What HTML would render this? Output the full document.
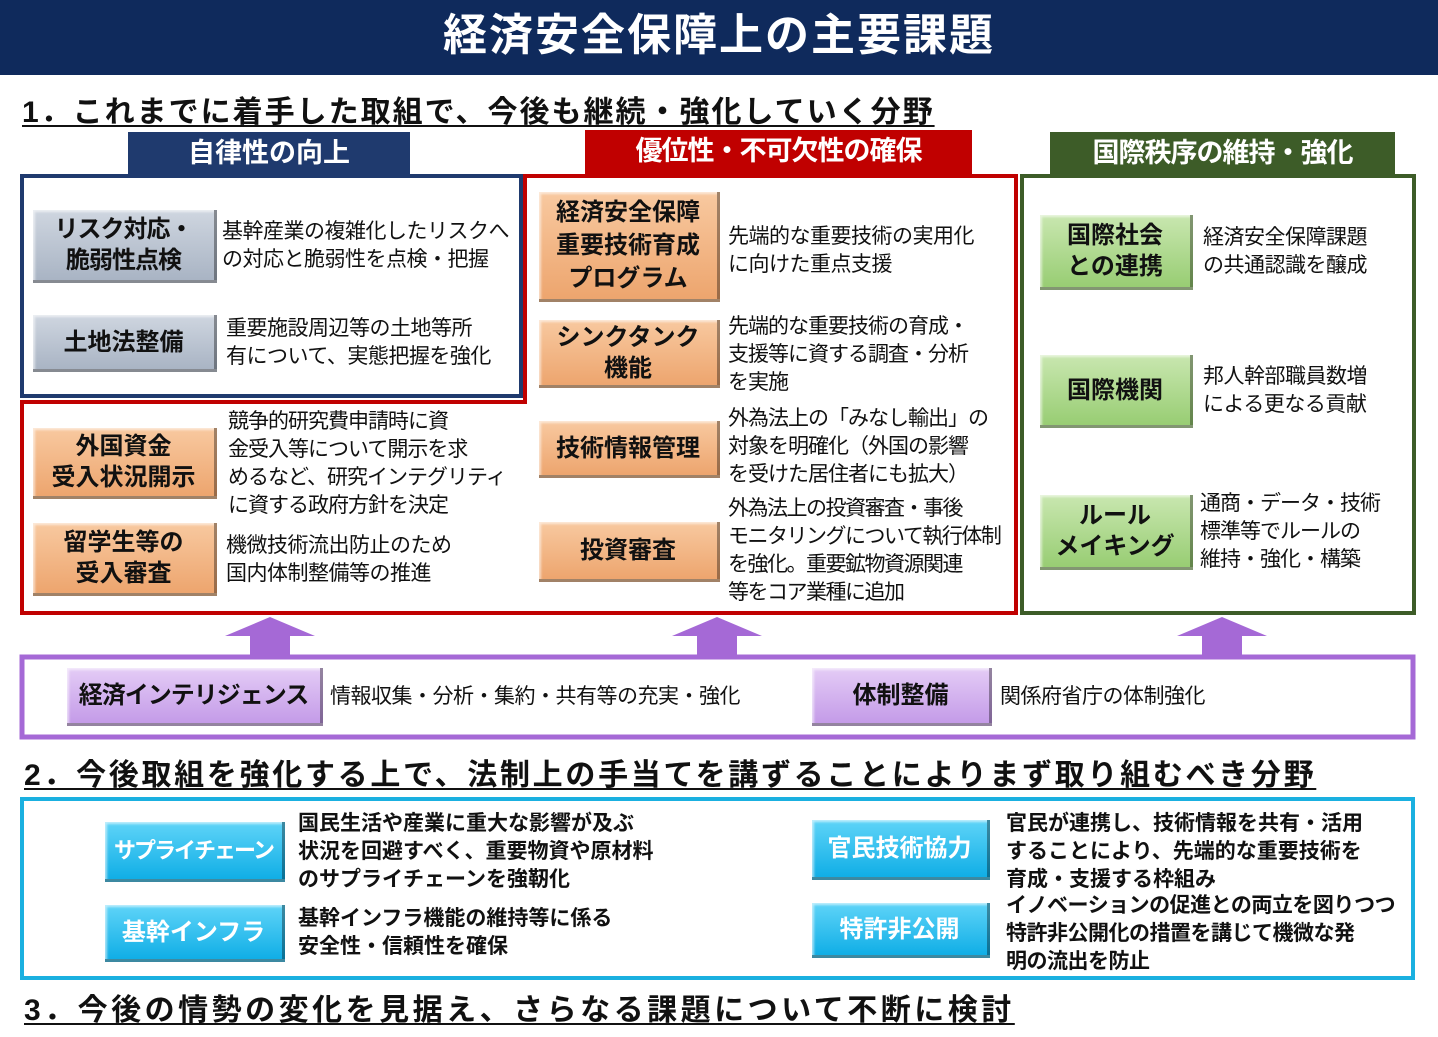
<!DOCTYPE html>
<html><head><meta charset="utf-8"><style>
*{margin:0;padding:0;box-sizing:border-box}
body{width:1438px;height:1037px;background:#fff;position:relative;overflow:hidden;font-family:"Liberation Sans","Noto Sans CJK JP",sans-serif;color:#111}
.a{position:absolute}
.hd{font-weight:bold;font-size:30px;text-decoration:underline;text-decoration-thickness:2px;text-underline-offset:3px;white-space:nowrap}
.tab{position:absolute;color:#fff;font-weight:bold;font-size:27px;text-align:center;line-height:42px;white-space:nowrap}
.btn{position:absolute;display:flex;align-items:center;justify-content:center;text-align:center;font-weight:bold;font-size:24px;line-height:31px;white-space:nowrap;border-right:3px solid rgba(0,0,0,.35);border-bottom:3px solid rgba(0,0,0,.35);box-shadow:inset 2px 2px 2px rgba(255,255,255,.6)}
.g{background:linear-gradient(#cfd6e0,#a9b4c4)}
.o{background:linear-gradient(#f8c9a0,#eda56e)}
.gr{background:linear-gradient(#c9e7b0,#98cd73)}
.p{background:linear-gradient(#e4ccf6,#c49be8)}
.c{background:linear-gradient(#5fd4f8,#10aee6);color:#fff}
.t{position:absolute;font-size:21px;line-height:28px;white-space:nowrap;letter-spacing:-0.5px}
.b{font-weight:bold;letter-spacing:0}
</style></head><body>
<div class="a" style="left:0;top:0;width:1438px;height:75px;background:#0f2a5c;color:#fff;font-weight:bold;font-size:44px;letter-spacing:2px;text-align:center;line-height:72px">経済安全保障上の主要課題</div>
<div class="a hd" style="left:22px;top:87px;letter-spacing:2px">1．これまでに着手した取組で、今後も継続・強化していく分野</div>

<div class="tab" style="left:128px;top:132px;width:282px;background:#1f3a6e">自律性の向上</div>
<div class="tab" style="left:585px;top:130px;width:387px;height:44px;background:#c00000;letter-spacing:-1px">優位性・不可欠性の確保</div>
<div class="tab" style="left:1050px;top:132px;width:345px;background:#3d5c28;letter-spacing:-1px">国際秩序の維持・強化</div>

<div class="a" style="left:20px;top:174px;width:503px;height:224px;border:4px solid #1f3a6e;box-shadow:inset 0 0 0 2px #fff, inset 0 0 0 1px #1f3a6e"></div>
<svg class="a" style="left:0;top:0" width="1438" height="740">
<polygon points="22,402 525,402 525,176 1016,176 1016,613 22,613" fill="none" stroke="#c00000" stroke-width="4"/>
<rect x="1022" y="176" width="392" height="437" fill="none" stroke="#3d5c28" stroke-width="4"/>
<g fill="#a569d6">
<polygon points="225,636 270,617 315,636 290,636 290,658 250,658 250,636"/>
<polygon points="672,636 717,617 762,636 737,636 737,658 697,658 697,636"/>
<polygon points="1177,636 1222,617 1267,636 1242,636 1242,658 1202,658 1202,636"/>
</g>
<rect x="22" y="657" width="1391" height="80" fill="none" stroke="#a569d6" stroke-width="5"/>
</svg>

<div class="btn g" style="left:33px;top:210px;width:184px;height:73px;letter-spacing:-1px">リスク対応・<br>脆弱性点検</div>
<div class="t" style="left:222px;top:218px">基幹産業の複雑化したリスクへ<br>の対応と脆弱性を点検・把握</div>
<div class="btn g" style="left:33px;top:315px;width:184px;height:57px">土地法整備</div>
<div class="t" style="left:226px;top:315px">重要施設周辺等の土地等所<br>有について、実態把握を強化</div>

<div class="btn o" style="left:33px;top:428px;width:184px;height:71px">外国資金<br>受入状況開示</div>
<div class="t" style="left:228px;top:408px;letter-spacing:-1px">競争的研究費申請時に資<br>金受入等について開示を求<br>めるなど、研究インテグリティ<br>に資する政府方針を決定</div>
<div class="btn o" style="left:33px;top:523px;width:184px;height:73px">留学生等の<br>受入審査</div>
<div class="t" style="left:226px;top:532px">機微技術流出防止のため<br>国内体制整備等の推進</div>

<div class="btn o" style="left:539px;top:192px;width:181px;height:110px;line-height:33px">経済安全保障<br>重要技術育成<br>プログラム</div>
<div class="t" style="left:728px;top:223px">先端的な重要技術の実用化<br>に向けた重点支援</div>
<div class="btn o" style="left:539px;top:320px;width:181px;height:68px">シンクタンク<br>機能</div>
<div class="t" style="left:728px;top:313px;letter-spacing:-1px">先端的な重要技術の育成・<br>支援等に資する調査・分析<br>を実施</div>
<div class="btn o" style="left:539px;top:421px;width:181px;height:57px">技術情報管理</div>
<div class="t" style="left:728px;top:405px;letter-spacing:-1px">外為法上の「みなし輸出」の<br>対象を明確化（外国の影響<br>を受けた居住者にも拡大）</div>
<div class="btn o" style="left:539px;top:522px;width:181px;height:60px">投資審査</div>
<div class="t" style="left:728px;top:495px;letter-spacing:-1.5px">外為法上の投資審査・事後<br>モニタリングについて執行体制<br>を強化。重要鉱物資源関連<br>等をコア業種に追加</div>

<div class="btn gr" style="left:1040px;top:215px;width:153px;height:75px">国際社会<br>との連携</div>
<div class="t" style="left:1203px;top:224px">経済安全保障課題<br>の共通認識を醸成</div>
<div class="btn gr" style="left:1040px;top:355px;width:153px;height:73px">国際機関</div>
<div class="t" style="left:1203px;top:363px">邦人幹部職員数増<br>による更なる貢献</div>
<div class="btn gr" style="left:1040px;top:495px;width:153px;height:75px">ルール<br>メイキング</div>
<div class="t" style="left:1200px;top:490px;letter-spacing:-1px">通商・データ・技術<br>標準等でルールの<br>維持・強化・構築</div>

<div class="btn p" style="left:67px;top:668px;width:256px;height:58px;letter-spacing:-1px">経済インテリジェンス</div>
<div class="t" style="left:330px;top:683px">情報収集・分析・集約・共有等の充実・強化</div>
<div class="btn p" style="left:812px;top:668px;width:180px;height:58px">体制整備</div>
<div class="t" style="left:1000px;top:683px">関係府省庁の体制強化</div>

<div class="a hd" style="left:24px;top:750px;letter-spacing:2.7px">2．今後取組を強化する上で、法制上の手当てを講ずることによりまず取り組むべき分野</div>

<div class="a" style="left:20px;top:797px;width:1395px;height:183px;border:4px solid #1ab0e0"></div>
<div class="btn c" style="left:105px;top:822px;width:180px;height:60px;font-size:22px;letter-spacing:-2px">サプライチェーン</div>
<div class="t b" style="left:298px;top:810px">国民生活や産業に重大な影響が及ぶ<br>状況を回避すべく、重要物資や原材料<br>のサプライチェーンを強靭化</div>
<div class="btn c" style="left:105px;top:905px;width:180px;height:57px">基幹インフラ</div>
<div class="t b" style="left:298px;top:905px">基幹インフラ機能の維持等に係る<br>安全性・信頼性を確保</div>
<div class="btn c" style="left:812px;top:820px;width:178px;height:60px">官民技術協力</div>
<div class="t b" style="left:1006px;top:810px">官民が連携し、技術情報を共有・活用<br>することにより、先端的な重要技術を<br>育成・支援する枠組み</div>
<div class="btn c" style="left:812px;top:903px;width:178px;height:55px">特許非公開</div>
<div class="t b" style="left:1006px;top:892px;letter-spacing:-0.5px">イノベーションの促進との両立を図りつつ<br>特許非公開化の措置を講じて機微な発<br>明の流出を防止</div>

<div class="a hd" style="left:24px;top:985px;letter-spacing:3.5px">3．今後の情勢の変化を見据え、さらなる課題について不断に検討</div>
</body></html>
